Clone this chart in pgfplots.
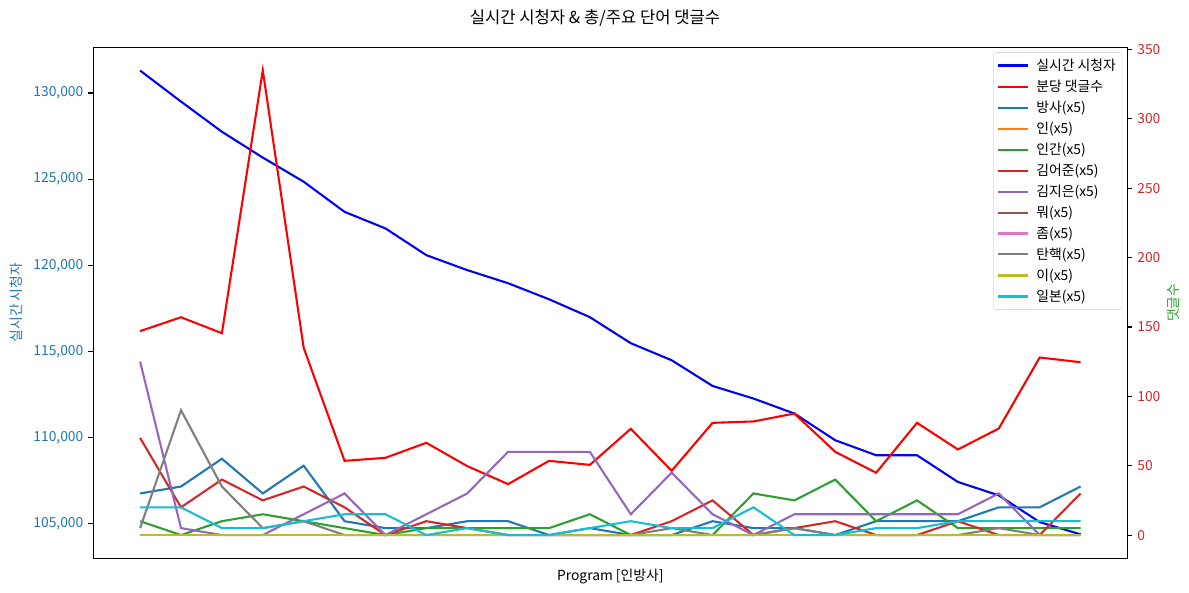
\documentclass[border=0pt]{standalone}
\usepackage{fontspec}
\setmainfont{Noto Sans CJK KR}
\usepackage{pgfplots}
\usepackage{pgfplotstable}
\pgfplotsset{compat=1.18}
\definecolor{tabblue}{HTML}{1F77B4}
\definecolor{taborange}{HTML}{FF7F0E}
\definecolor{tabgreen}{HTML}{2CA02C}
\definecolor{tabred}{HTML}{D62728}
\definecolor{tabpurple}{HTML}{9467BD}
\definecolor{tabbrown}{HTML}{8C564B}
\definecolor{tabpink}{HTML}{E377C2}
\definecolor{tabgray}{HTML}{7F7F7F}
\definecolor{tabolive}{HTML}{BCBD22}
\definecolor{tabcyan}{HTML}{17BECF}
\pgfplotstableread{
x view cpm bangsa in ingan kim jieun mwo jom tan yi ilbon
0 131300 147 30 0 10 70 125 0 0 5 0 20
1 129500 157 35 0 0 20 5 0 0 90 0 20
2 127750 145.5 55 0 10 40 0 0 0 35 0 5
3 126250 335 30 0 15 25 0 0 0 5 0 5
4 124850 135 50 0 10 35 15 0 0 10 0 10
5 123100 53.5 10 0 5 20 30 0 0 0 0 15
6 122140 55.7 5 0 0 0 0 0 0 0 0 15
7 120590 66.5 5 0 5 10 15 0 0 0 0 0
8 119720 49.7 10 0 5 5 30 0 0 0 0 5
9 118960 36.7 10 0 5 0 60 0 0 0 0 0
10 118030 53.5 0 0 5 0 60 0 0 0 0 0
11 116990 50.6 5 0 15 0 60 0 0 0 0 5
12 115480 76.6 0 0 0 0 15 0 0 0 0 10
13 114490 46.3 0 0 0 10 45 0 0 5 0 5
14 113000 80.9 10 0 0 25 15 0 0 0 0 5
15 112270 81.9 5 0 30 0 0 0 0 0 0 20
16 111400 87.6 5 0 25 5 15 0 0 5 0 0
17 109850 60 0 0 40 10 15 0 0 0 0 0
18 108980 44.9 10 0 10 0 15 0 0 0 0 5
19 108980 80.9 10 0 25 0 15 0 0 0 0 5
20 107430 61.7 10 0 5 10 15 0 0 0 0 10
21 106650 76.8 20 0 5 0 30 0 0 5 0 10
22 105100 128 20 0 5 0 0 0 0 0 0 10
23 104390 124.6 35 0 5 30 0 0 0 0 0 10
}\data
\begin{document}
\begin{tikzpicture}
\path[use as bounding box] (-67bp,-24.5bp) rectangle (788.7bp,401.8bp);
\pgfplotsset{
  every axis/.append style={
    scale only axis, width=744.5bp, height=367.9bp,
    xmin=-1.15, xmax=24.15,
    tick align=outside, major tick length=3.5bp,
    axis line style={line width=0.8bp},
    every tick/.style={black, line width=0.8bp},
    tick label style={font=\fontsize{10}{12}\selectfont},
    label style={font=\fontsize{10}{12}\selectfont},
    /pgf/number format/assume math mode=true,
  },
}
\begin{axis}[
  at={(0,0)}, anchor=south west,
  ymin=103000, ymax=132660,
  xtick=\empty,
  ytick={105000,110000,115000,120000,125000,130000},
  ytick pos=left,
  scaled y ticks=false,
  yticklabel style={color=tabblue, /pgf/number format/fixed, /pgf/number format/1000 sep={,}},
  ylabel={실시간 시청자},
  ylabel style={color=tabblue, xshift=0bp, yshift=1bp},
  xlabel={Program [인방사]},
  xlabel style={at={(0.5,0)}, anchor=center, yshift=-13bp},
  title={실시간 시청자 \& 총/주요 단어 댓글수},
  title style={at={(0.5,1)}, anchor=center, yshift=15bp, xshift=-11bp, font=\fontsize{12}{14}\selectfont},
]
\addplot[blue, line width=1.5bp] table[x=x,y=view]{\data};
\end{axis}
\begin{axis}[
  at={(0,0)}, anchor=south west,
  ymin=-16.75, ymax=351.75,
  axis x line=none, axis y line*=right,
  ytick={0,50,100,150,200,250,300,350},
  yticklabel style={color=tabred},
  ylabel={댓글수},
  ylabel style={color=tabgreen, yshift=2bp},
  legend cell align=left,
  legend image code/.code={\draw[#1, line width=1.5bp] (-1bp,0bp) -- (21bp,0bp); \path (24bp,0bp);},
  legend style={at={(0.995,0.99)}, anchor=north east, draw=black!15, rounded corners=2bp,
    fill=white, fill opacity=0.8, text opacity=1, font=\fontsize{10}{12}\selectfont,
    row sep=1.4bp, inner sep=2.5bp},
]
\addlegendimage{blue}\addlegendentry{실시간 시청자}
\addplot[red, line width=1.5bp] table[x=x,y=cpm]{\data}; \addlegendentry{분당 댓글수}
\addplot[tabblue, line width=1.5bp] table[x=x,y=bangsa]{\data}; \addlegendentry{방사(x5)}
\addplot[taborange, line width=1.5bp] table[x=x,y=in]{\data}; \addlegendentry{인(x5)}
\addplot[tabgreen, line width=1.5bp] table[x=x,y=ingan]{\data}; \addlegendentry{인간(x5)}
\addplot[tabred, line width=1.5bp] table[x=x,y=kim]{\data}; \addlegendentry{김어준(x5)}
\addplot[tabpurple, line width=1.5bp] table[x=x,y=jieun]{\data}; \addlegendentry{김지은(x5)}
\addplot[tabbrown, line width=1.5bp] table[x=x,y=mwo]{\data}; \addlegendentry{뭐(x5)}
\addplot[tabpink, line width=1.5bp] table[x=x,y=jom]{\data}; \addlegendentry{좀(x5)}
\addplot[tabgray, line width=1.5bp] table[x=x,y=tan]{\data}; \addlegendentry{탄핵(x5)}
\addplot[tabolive, line width=1.5bp] table[x=x,y=yi]{\data}; \addlegendentry{이(x5)}
\addplot[tabcyan, line width=1.5bp] table[x=x,y=ilbon]{\data}; \addlegendentry{일본(x5)}
\end{axis}
\end{tikzpicture}
\end{document}
